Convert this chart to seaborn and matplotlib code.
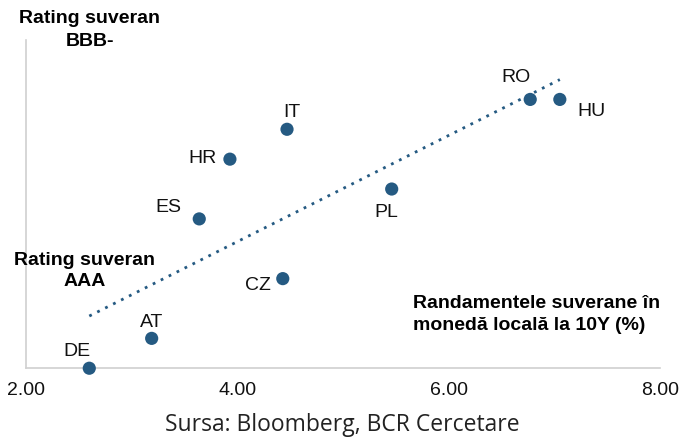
import numpy as np
import pandas as pd
import matplotlib
matplotlib.use("Agg")
import matplotlib.pyplot as plt
import seaborn as sns

# date
tari = ["DE", "AT", "CZ", "ES", "PL", "HR", "IT", "RO", "HU"]
randament = [2.60, 3.19, 4.43, 3.64, 5.46, 3.93, 4.47, 6.77, 7.05]
# treapta de rating: 0 = AAA ... 9 = BBB-
rating = [0, 1, 3, 5, 6, 7, 8, 9, 9]
x_ticks = [2, 4, 6, 8]
x_tick_labels = ["2.00", "4.00", "6.00", "8.00"]

# pozitia etichetelor fata de puncte (puncte tipografice)
offset = {
    "DE": (-9, 12), "AT": (0, 11.5), "CZ": (-18, -5), "ES": (-22, 8),
    "HR": (-20, 0.7), "IT": (3.5, 12), "PL": (-3.6, -17), "RO": (-10, 16),
    "HU": (23, -9),
}

df = pd.DataFrame({"tara": tari, "randament": randament, "rating": rating})

sns.set_style("white")
plt.rcParams["font.family"] = ["Liberation Sans", "DejaVu Sans"]

culoare = "#255a82"
fig, ax = plt.subplots(figsize=(6.8, 4.41), dpi=100)
fig.subplots_adjust(left=0.038, right=0.971, top=0.91, bottom=0.165)

sns.regplot(data=df, x="randament", y="rating", ax=ax, ci=None,
            scatter_kws={"s": 90, "color": culoare, "edgecolor": "none", "alpha": 1,
                         "zorder": 3, "clip_on": False},
            line_kws={"color": culoare, "linestyle": (0, (1, 2.2)), "linewidth": 2})

for _, r in df.iterrows():
    ax.annotate(r["tara"], (r["randament"], r["rating"]), xytext=offset[r["tara"]],
                textcoords="offset points", ha="center", va="center",
                fontsize=14, color="#111111")

ax.set_xlim(2, 8)
ax.set_ylim(0, 11)
ax.set_xticks(x_ticks)
ax.set_xticklabels(x_tick_labels, fontsize=14, color="#111111")
ax.set_yticks([])
ax.set_xlabel("")
ax.set_ylabel("")
ax.tick_params(axis="x", length=0, pad=10)
for s in ["top", "right"]:
    ax.spines[s].set_visible(False)
for s in ["left", "bottom"]:
    ax.spines[s].set_color("#d0d0d0")
    ax.spines[s].set_linewidth(1.2)
ax.spines["bottom"].set_zorder(1)

fig.text(0.132, 0.932, "Rating suveran\nBBB-", ha="center", va="center",
         fontsize=14, fontweight="bold", linespacing=1.4, color="black")
fig.text(0.125, 0.385, "Rating suveran\nAAA", ha="center", va="center",
         fontsize=14, fontweight="bold", linespacing=1.35, color="black")
fig.text(0.607, 0.286, "Randamentele suverane în\nmonedă locală la 10Y (%)", ha="left",
         va="center", fontsize=14, fontweight="bold", linespacing=1.4, color="black")
fig.text(0.504, 0.036, "Sursa: Bloomberg, BCR Cercetare", ha="center", va="center",
         fontsize=16.5, family=["Open Sans", "DejaVu Sans"], color="#222222")

fig.savefig("out.png", dpi=100)
